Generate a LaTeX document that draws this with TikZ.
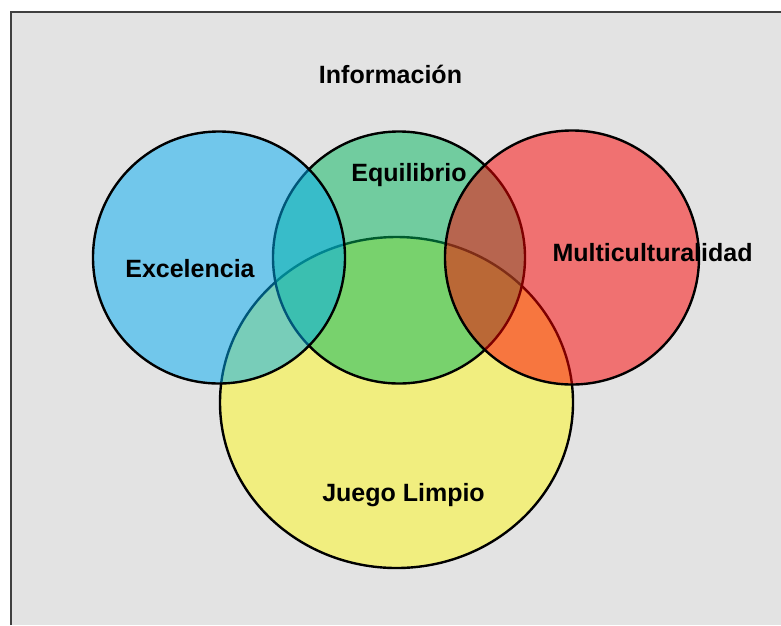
\documentclass[tikz,border=0pt]{standalone}
\usepackage{fontspec}
\setmainfont{Liberation Sans}
\usetikzlibrary{shapes.geometric}
\definecolor{bggray}{RGB}{227,227,227}
\definecolor{framegray}{RGB}{64,64,64}
\definecolor{vyellow}{RGB}{255,249,29}
\definecolor{vgreen}{RGB}{0,183,93}
\definecolor{vblue}{RGB}{0,173,243}
\definecolor{vred}{RGB}{253,0,0}
\begin{document}
\begin{tikzpicture}[x=1pt,y=-1pt,
  venn/.style={draw=black, line width=2.4pt, fill opacity=0.5, inner sep=0pt, outer sep=0pt},
  lbl/.style={font=\fontsize{25}{30}\selectfont\bfseries, anchor=base, inner sep=0pt, text=black}]
\useasboundingbox (0,0) rectangle (781,625);
\fill[white] (0,0) rectangle (781,625);
\fill[bggray] (11,12) rectangle (781,625);
\draw[framegray, line width=2pt] (11,625) -- (11,12) -- (781,12);
\node[venn, ellipse, fill=vyellow, minimum width=353pt, minimum height=331pt] (juego) at (396.5,402.5) {};
\node[venn, circle, fill=vgreen, minimum size=252pt] (equi) at (399,257.5) {};
\node[venn, circle, fill=vblue, minimum size=252pt] (exce) at (219,257.5) {};
\node[venn, circle, fill=vred, minimum size=254pt] (multi) at (572,257.5) {};
\node[lbl] (tinfo) at (390.5,83) {Información};
\node[lbl] (texce) at (190,277) {Excelencia};
\node[lbl] (tequi) at (409,181) {Equilibrio};
\node[lbl] (tmulti) at (652.5,261) {Multiculturalidad};
\node[lbl] (tjuego) at (403.5,501) {Juego Limpio};
\end{tikzpicture}
\end{document}
